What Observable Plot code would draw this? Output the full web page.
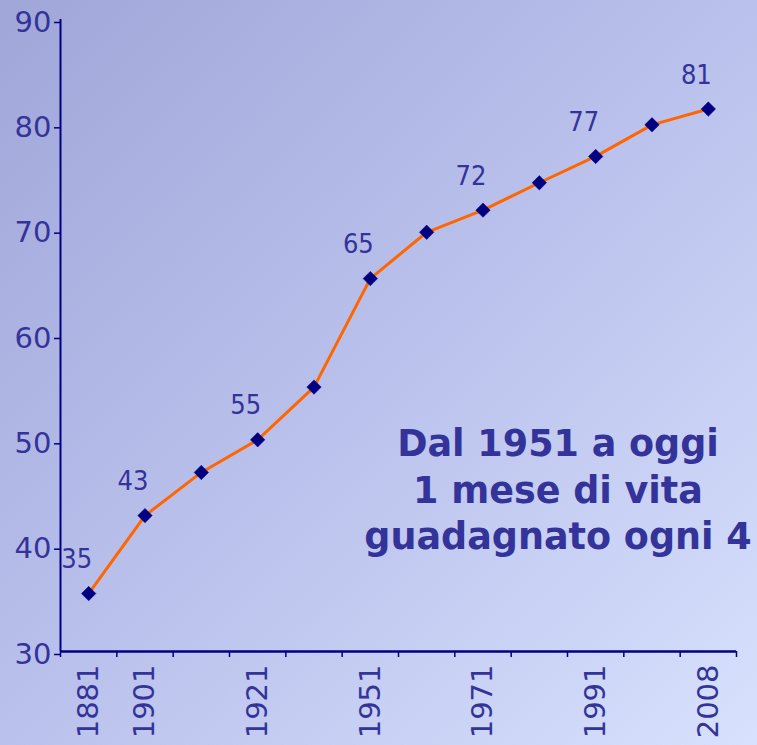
<!DOCTYPE html>
<html>
<head>
<meta charset="utf-8">
<script src="https://cdn.jsdelivr.net/npm/d3@7"></script>
<script src="https://cdn.jsdelivr.net/npm/@observablehq/plot@0.6"></script>
<style>
  html, body { margin: 0; padding: 0; }
  body { width: 757px; height: 745px; overflow: hidden; }
  #wrap {
    position: relative; width: 757px; height: 745px; overflow: hidden;
    background: linear-gradient(to bottom right, #a0a6d8 0%, #bac1ec 50%, #d8e1fd 100%);
    font-family: "DejaVu Sans", Verdana, sans-serif;
  }
  #note {
    position: absolute; left: 308px; width: 500px; top: 421px;
    text-align: center; color: #333399; font-weight: bold;
    font-size: 36.5px; line-height: 46.5px; white-space: nowrap;
  }
</style>
</head>
<body>
<div id="wrap">
  <div id="chart"></div>
  <div id="note">Dal 1951 a oggi<br>1 mese di vita<br>guadagnato ogni 4</div>
</div>
<script>
const years = ["1881","1901","1911","1921","1931","1951","1961","1971","1981","1991","2001","2008"];
const lifeExp = [35.5, 42.9, 47.0, 50.1, 55.1, 65.4, 69.8, 71.9, 74.5, 77.0, 80.0, 81.5];
const labeledYears = ["1881","1901","1921","1951","1971","1991","2008"];
const labelTexts = ["35","43","55","65","72","77","81"];
const yTicks = [30, 40, 50, 60, 70, 80, 90];

const idx = years.map((_, i) => i);
const boundaries = d3.range(-0.5, years.length, 1);
const labelIdx = labeledYears.map(y => years.indexOf(y));
const labelRows = labeledYears.map((y, k) => ({i: years.indexOf(y), v: lifeExp[years.indexOf(y)], t: labelTexts[k]}));

const navy = "#000080";
const textCol = "#333399";

const chart = Plot.plot({
  width: 757,
  height: 745,
  marginLeft: 60,
  marginRight: 21,
  marginTop: 19,
  marginBottom: 94,
  style: {background: "transparent", fontFamily: "DejaVu Sans, Verdana, sans-serif", overflow: "visible"},
  x: {type: "linear", domain: [-0.5, years.length - 0.5], label: null},
  y: {domain: [30, 90], label: null},
  marks: [
    Plot.axisY({ticks: yTicks, tickSize: 6, tickPadding: 3, fontSize: 29, fill: textCol, stroke: navy, strokeWidth: 1.5, tickFormat: d => String(d), dy: 3, label: null}),
    Plot.axisX({ticks: boundaries, tickSize: 6, tickFormat: () => "", stroke: navy, strokeWidth: 1.5, label: null}),
    Plot.axisX({ticks: labelIdx, tickSize: 0, tickPadding: 13, tickRotate: -90, fontSize: 29, fill: textCol, tickFormat: i => years[i], label: null}),
    Plot.ruleX([-0.5], {stroke: navy, strokeWidth: 2}),
    Plot.ruleY([30], {stroke: navy, strokeWidth: 2.5}),
    Plot.line(idx, {x: i => i, y: i => lifeExp[i], stroke: "#ff6600", strokeWidth: 3}),
    Plot.dot(idx, {x: i => i, y: i => lifeExp[i], symbol: "diamond2", r: 6.5, fill: navy, stroke: navy, strokeWidth: 0.5}),
    Plot.text(labelRows, {x: "i", y: "v", text: "t", dx: -12, dy: -34, fontSize: 27, fill: textCol, fontFamily: "DejaVu Sans Condensed, Liberation Sans, sans-serif"})
  ]
});
document.getElementById("chart").appendChild(chart);
</script>
</body>
</html>
